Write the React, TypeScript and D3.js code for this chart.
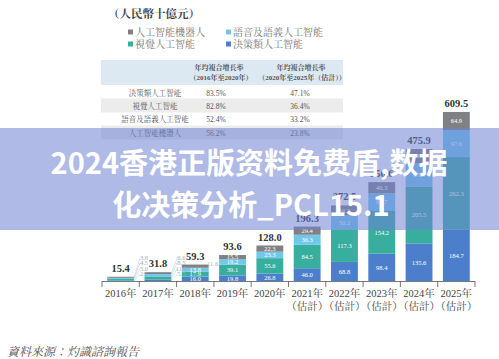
import React from "react";
import * as d3 from "d3";

const years = ["2016", "2017", "2018", "2019", "2020", "2021", "2022", "2023", "2024", "2025"];
const estimated = [false, false, false, false, false, true, true, true, true, true];
const seriesNames = ["決策類人工智能", "視覺人工智能", "語音及語義人工智能", "人工智能機器人"];
const decision = [2.1, 5.5, 16.0, 19.8, 26.8, 46.0, 68.8, 98.4, 135.6, 184.7];
const vision = [5.0, 11.2, 17.9, 39.1, 55.6, 84.5, 117.3, 154.2, 205.5, 262.3];
const speech = [4.5, 8.5, 13.8, 19.2, 23.3, 36.3, 50.2, 63.7, 83.3, 97.6];
const robot = [3.8, 6.6, 11.6, 15.5, 22.3, 29.4, 36.2, 40.3, 51.5, 64.9];
const totals = [15.4, 31.8, 59.3, 93.6, 128.0, 196.3, 272.5, 356.6, 475.9, 609.5];
const colors = ["#4b7fcc", "#38ae9f", "#70c8ea", "#808184"];

const tableRows = ["決策類人工智能", "視覺人工智能", "語音及語義人工智能", "人工智能機器人"];
const cagr1 = ["83.5%", "82.8%", "52.4%", "56.2%"];
const cagr2 = ["47.1%", "36.4%", "33.2%", "23.8%"];

const SERIF = "'Liberation Serif', 'Noto Serif CJK TC', 'Noto Sans CJK TC', serif";

export default function App() {
  const W = 499, H = 359;
  const x = d3.scaleBand<string>().domain(years).range([102, 475]).paddingInner(0.28).paddingOuter(0.14);
  const y = d3.scaleLinear().domain([0, 609.5]).range([281, 112]);
  const values = [decision, vision, speech, robot];
  const stackData = years.map((yr, i) => ({ year: yr, s0: decision[i], s1: vision[i], s2: speech[i], s3: robot[i] }));
  const stacked = d3.stack<any>().keys(["s0", "s1", "s2", "s3"])(stackData);
  const step = x.step();
  const bw = x.bandwidth();

  const legend = [
    { name: "人工智能機器人", c: colors[3], lx: 130, ly: 32 },
    { name: "語音及語義人工智能", c: colors[2], lx: 228, ly: 32 },
    { name: "視覺人工智能", c: colors[1], lx: 130, ly: 44 },
    { name: "決策類人工智能", c: colors[0], lx: 228, ly: 44 },
  ];

  const rowY = [88, 100.5, 114, 127.5];
  return (
    <svg width={W} height={H} style={{ position: "absolute", left: 0, top: 0, background: "#fff" }} fontFamily={SERIF}>
      <rect x={0} y={0} width={W} height={H} fill="#fff" />
      <text x={108} y={18} fontSize={11.5} fontWeight="bold" fill="#444">（人民幣十億元）</text>
      {legend.map((l) => (
        <g key={l.name}>
          <rect x={l.lx - 2} y={l.ly - 2.5} width={5} height={5} fill={l.c} />
          <text x={l.lx + 5} y={l.ly + 3.5} fontSize={10} fill="#777">{l.name}</text>
        </g>
      ))}
      {/* table */}
      <rect x={101} y={60} width={242} height={25} fill="#dce8f2" />
      <text x={219} y={70} fontSize={7} textAnchor="middle" fill="#555" fontWeight="bold">年均複合增長率</text>
      <text x={221} y={80} fontSize={7} textAnchor="middle" fill="#555" fontWeight="bold">（2016年至2020年）</text>
      <text x={301} y={70} fontSize={7} textAnchor="middle" fill="#555" fontWeight="bold">年均複合增長率</text>
      <text x={302} y={80} fontSize={7} textAnchor="middle" fill="#555" fontWeight="bold">（2020年至2025年（估計））</text>
      {tableRows.map((r, i) => (
        <g key={r}>
          {i % 2 === 1 && <rect x={101} y={rowY[i] - 2} width={242} height={14} fill="#ececec" />}
          <text x={155} y={rowY[i] + 8} fontSize={7.5} textAnchor="middle" fill="#555">{r}</text>
          <text x={216} y={rowY[i] + 8} fontSize={7.5} textAnchor="middle" fill="#555">{cagr1[i]}</text>
          <text x={300} y={rowY[i] + 8} fontSize={7.5} textAnchor="middle" fill="#555">{cagr2[i]}</text>
        </g>
      ))}
      {/* bars */}
      {stacked.map((layer, si) => (
        <g key={si}>
          {layer.map((d, i) => {
            const x0 = x(years[i])!;
            const y0 = y(d[1]);
            const h = y(d[0]) - y(d[1]);
            return <rect key={i} x={x0} y={y0} width={bw} height={h} fill={colors[si]} />;
          })}
        </g>
      ))}
      {/* segment labels */}
      {stacked.map((layer, si) =>
        layer.map((d, i) => {
          const v = values[si][i];
          const cx = x(years[i])! + bw / 2;
          const cy = (y(d[0]) + y(d[1])) / 2;
          if (i <= 1) {
            const lx = x(years[i])! + step - 0.5;
            const ly = 276 - (si) * 5.5;
            return (
              <g key={`${si}-${i}`}>
                <line x1={x(years[i])! + bw} y1={cy} x2={lx - 4} y2={ly - 2} stroke="#b9d4dc" strokeWidth={0.6} />
                <text x={lx} y={ly} fontSize={6.5} textAnchor="middle" fill="#9bb0bd">{v.toFixed(1)}</text>
              </g>
            );
          }
          if (i === 2 && si === 3) {
            return (
              <text key={`${si}-${i}`} x={x(years[i])! + bw + 4} y={y(d[1]) + 1} fontSize={6.5} textAnchor="middle" fill="#a8b4bb">{v.toFixed(1)}</text>
            );
          }
          return (
            <text key={`${si}-${i}`} x={cx} y={cy + 2.3} fontSize={6.5} textAnchor="middle" fill="#fff">{v.toFixed(1)}</text>
          );
        })
      )}
      {/* totals */}
      {years.map((yr, i) => (
        <text key={yr} x={x(yr)! + bw / 2} y={y(totals[i]) - 5} fontSize={10.5} fontWeight="bold" textAnchor="middle" fill="#333">{totals[i].toFixed(1)}</text>
      ))}
      {/* axis */}
      <line x1={102} x2={475} y1={281.5} y2={281.5} stroke="#555" strokeWidth={0.8} />
      {d3.range(years.length + 1).map((k) => (
        <line key={k} x1={102 + k * step} x2={102 + k * step} y1={281} y2={287} stroke="#555" strokeWidth={0.8} />
      ))}
      {years.map((yr, i) => (
        <g key={yr}>
          <text x={x(yr)! + bw / 2} y={297} fontSize={10.5} textAnchor="middle" fill="#444">{yr}年</text>
          {estimated[i] && (
            <text x={x(yr)! + bw / 2} y={310} fontSize={10.5} textAnchor="middle" fill="#444">（估計）</text>
          )}
        </g>
      ))}
      <text x={7} y={356} fontSize={12} fontStyle="italic" fill="#555">資料來源：灼識諮詢報告</text>
      {/* banner */}
      <rect x={0} y={128} width={W} height={102} fill="rgb(110,130,210)" fillOpacity={0.55} />
      <g fontFamily="'Noto Sans CJK SC', sans-serif" fontWeight="bold" fontSize={29} fill="#fff" textAnchor="middle">
        <text x={249} y={174}>2024香港正版资料免费盾,数据</text>
        <text x={251} y={216}>化决策分析_PCL15.1</text>
      </g>
    </svg>
  );
}
